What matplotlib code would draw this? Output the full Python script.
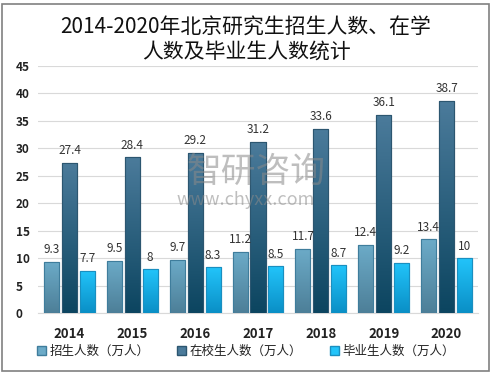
import numpy as np
import matplotlib
matplotlib.use('Agg')
import matplotlib.pyplot as plt
from matplotlib.colors import LinearSegmentedColormap
from matplotlib.patches import Rectangle

plt.rcParams['font.family'] = ['Noto Sans CJK SC', 'DejaVu Sans']

years = ['2014', '2015', '2016', '2017', '2018', '2019', '2020']
zhaosheng = [9.3, 9.5, 9.7, 11.2, 11.7, 12.4, 13.4]
zaixiao = [27.4, 28.4, 29.2, 31.2, 33.6, 36.1, 38.7]
biye = [7.7, 8, 8.3, 8.5, 8.7, 9.2, 10]
series_names = ['招生人数（万人）', '在校生人数（万人）', '毕业生人数（万人）']

# gradient (top, bottom) and edge per series
grads = [('#6cabc8', '#4d7f98'), ('#4b7b9b', '#0c4560'), ('#22c4fa', '#0a8fc6')]
edges = ['#3f7d9c', '#2c5670', '#1a8fc0']

fig = plt.figure(figsize=(4.92, 3.73), dpi=100)
ax = fig.add_axes([38 / 492, 1 - 313 / 373, 440 / 492, 247 / 373])

x = np.arange(len(years))
w = 0.24
offs = [-0.285, 0, 0.285]
data = [zhaosheng, zaixiao, biye]

for k, vals in enumerate(data):
    cmap = LinearSegmentedColormap.from_list('g%d' % k, [grads[k][1], grads[k][0]])
    bars = ax.bar(x + offs[k], vals, w, color=grads[k][0], edgecolor=edges[k],
                  linewidth=0.8, zorder=3, label=series_names[k])
    for b, v in zip(bars, vals):
        x0 = b.get_x()
        grad = np.linspace(0, 1, 100).reshape(-1, 1)
        im = ax.imshow(grad, cmap=cmap, origin='lower', aspect='auto',
                       extent=[x0, x0 + w, 0, v], zorder=3.5)
        im.set_clip_path(b)
        ax.add_patch(Rectangle((x0, 0), w, v, fill=False, edgecolor=edges[k],
                               linewidth=0.8, zorder=4))
        lab = ('%g' % v)
        ax.text(x0 + w / 2, v + 1.0, lab, ha='center', va='bottom',
                fontsize=8.5, color='#333333', zorder=5)

ax.set_xlim(-0.5, len(years) - 0.5)
ax.set_ylim(0, 45)
ax.set_yticks(np.arange(0, 46, 5))
ax.set_xticks(x)
ax.set_xticklabels(years, fontsize=9.5, fontweight='bold', color='#222222')
ax.tick_params(axis='y', labelsize=8.5, colors='#222222', length=0, pad=16)
ax.tick_params(axis='x', length=0, pad=10)
for lbl in ax.get_yticklabels():
    lbl.set_fontweight('bold')
    lbl.set_horizontalalignment('left')
ax.grid(axis='y', color='#d9d9d9', linewidth=0.8, zorder=0)
for s in ['top', 'right', 'left']:
    ax.spines[s].set_visible(False)
ax.spines['bottom'].set_color('#d9d9d9')

# watermark
fig.text(0.52, 1 - 172 / 373, '智研咨询', fontsize=25, color='#8a8a8a', alpha=0.55,
         ha='center', va='center', zorder=10)
fig.text(0.5, 1 - 200 / 373, 'www.chyxx.com', fontsize=13, color='#8a8a8a', alpha=0.55,
         ha='center', va='center', zorder=10)

fig.text(0.5, 1 - 28 / 373, '2014-2020年北京研究生招生人数、在学', fontsize=15,
         fontweight='medium', ha='center', va='center', color='#111111')
fig.text(0.5, 1 - 52 / 373, '人数及毕业生人数统计', fontsize=15,
         fontweight='medium', ha='center', va='center', color='#111111')

handles = [Rectangle((0, 0), 1, 1, facecolor=grads[k][0], edgecolor=edges[k])
           for k in range(3)]
fig.legend(handles, series_names, loc='center', bbox_to_anchor=(0.5, 1 - 351 / 373),
           ncol=3, frameon=False, fontsize=9, handlelength=0.7, handleheight=0.7,
           handletextpad=0.3, columnspacing=2.2, labelcolor='#222222')

fig.patches.append(Rectangle((2 / 492, 2 / 373), 487 / 492, 367 / 373, fill=False,
                             edgecolor='#808080', linewidth=1.2,
                             transform=fig.transFigure, figure=fig))

fig.savefig('out.png', dpi=100)
